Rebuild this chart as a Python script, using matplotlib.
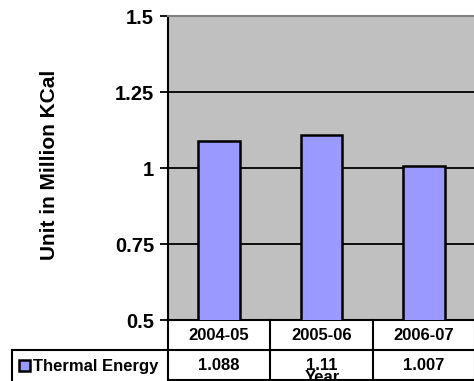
import matplotlib
matplotlib.use("Agg")
import matplotlib.pyplot as plt
from matplotlib.transforms import blended_transform_factory

years = ["2004-05", "2005-06", "2006-07"]
thermal_energy = [1.088, 1.11, 1.007]
value_labels = ["1.088", "1.11", "1.007"]
y_ticks = [0.5, 0.75, 1.0, 1.25, 1.5]
y_tick_labels = ["0.5", "0.75", "1", "1.25", "1.5"]

plt.rcParams["font.family"] = ["Liberation Sans", "DejaVu Sans"]
plt.rcParams["font.weight"] = "bold"

W, H = 474, 381
fig = plt.figure(figsize=(W / 100, H / 100), dpi=100)
ax = fig.add_axes([168 / W, 61 / H, 307 / W, 304 / H])
ax.set_facecolor("#c0c0c0")

x = list(range(len(years)))
ax.bar(x, thermal_energy, width=0.41, bottom=0, color="#9999ff",
       edgecolor="black", linewidth=1.8, zorder=3)
ax.set_xlim(-0.5, len(years) - 0.5)
ax.set_ylim(0.5, 1.5)

ax.set_yticks(y_ticks)
ax.set_yticklabels(y_tick_labels, fontsize=14.5, fontweight="bold")
ax.tick_params(axis="y", direction="out", length=6, width=1.3, pad=4)
ax.set_xticks([])
for v in y_ticks[1:-1]:
    ax.axhline(v, color="black", linewidth=1.3, zorder=1)

ax.spines["left"].set_linewidth(1.5)
ax.spines["top"].set_color("#808080")
ax.spines["top"].set_linewidth(1.5)
ax.spines["right"].set_visible(False)
ax.spines["bottom"].set_linewidth(1.5)

ax.set_ylabel("Unit in Million KCal", fontsize=15, fontweight="bold")
ax.yaxis.set_label_coords(59 / W, (H - 165) / H, transform=fig.transFigure)

# data table under the plot
row_h = 30 / 304
tr = blended_transform_factory(ax.transData, ax.transAxes)
lw = 1.5
for i, (yr, lab) in enumerate(zip(years, value_labels)):
    ax.text(i, -row_h / 2, yr, transform=tr, ha="center", va="center",
            fontsize=12, fontweight="bold", clip_on=False)
    ax.text(i, -row_h * 1.5, lab, transform=tr, ha="center", va="center",
            fontsize=12, fontweight="bold", clip_on=False)
for i in range(len(years) + 1):
    ax.plot([i - 0.5, i - 0.5], [0, -2.2 * row_h], transform=tr,
            color="black", lw=lw, clip_on=False)
ax.plot([-0.5, len(years) - 0.5], [-row_h, -row_h], transform=tr,
        color="black", lw=lw, clip_on=False)
ax.plot([-0.5, len(years) - 0.5], [-2 * row_h, -2 * row_h], transform=tr,
        color="black", lw=lw, clip_on=False)

# legend cell
fx0, fx1 = 12 / W, 168 / W
fy1, fy0 = 31 / H, 0
fig.add_artist(plt.Line2D([fx0, fx1], [fy1, fy1], color="black", lw=lw))
fig.add_artist(plt.Line2D([fx0, fx0], [fy1, fy0], color="black", lw=lw))
fig.add_artist(plt.Rectangle((19 / W, 10 / H), 11 / W, 11 / H, facecolor="#9999ff",
                             edgecolor="black", lw=1.8))
fig.text(33 / W, 15 / H, "Thermal Energy", fontsize=12, fontweight="bold",
         va="center", ha="left")

fig.text(322 / W, -4 / H, "Year", fontsize=12, fontweight="bold",
         ha="center", va="bottom")

fig.savefig("out.png", dpi=100)
